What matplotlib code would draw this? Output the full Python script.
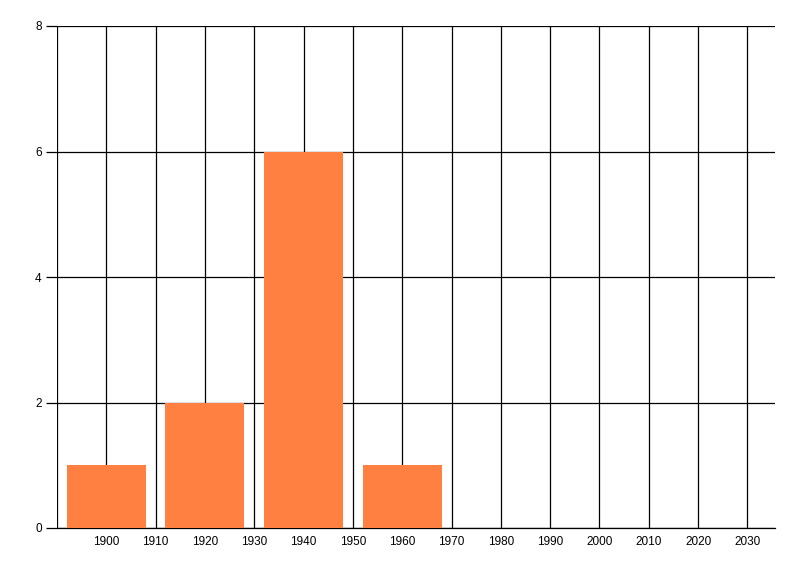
import matplotlib.pyplot as plt

# bar data
years = [1900, 1920, 1940, 1960]
counts = [1, 2, 6, 1]
x_ticks = list(range(1900, 2040, 10))
y_ticks = [0, 2, 4, 6, 8]

plt.rcParams['font.family'] = ['Liberation Sans', 'DejaVu Sans']

fig = plt.figure(figsize=(8, 5.76), dpi=100)
ax = fig.add_axes([57 / 800, 1 - 528 / 576, (775 - 57) / 800, (528 - 26) / 576])

ax.bar(years, counts, width=16, color='#FF8040', zorder=3)

ax.set_xlim(1890, 2035.6)
ax.set_ylim(0, 8)
ax.set_xticks(x_ticks)
ax.set_yticks(y_ticks)

# vertical grid every decade, starting at the left edge
for x in range(1890, 2040, 10):
    ax.axvline(x, color='black', linewidth=0.9, zorder=1)
ax.grid(axis='y', color='black', linewidth=0.9, zorder=1)

for side in ['left', 'right', 'top']:
    ax.spines[side].set_visible(False)
ax.spines['bottom'].set_linewidth(0.9)

ax.tick_params(axis='x', length=0, pad=6, labelsize=8.5)
ax.tick_params(axis='y', length=8, width=0.9, pad=3, labelsize=8.5)

plt.savefig('out.png', dpi=100)
